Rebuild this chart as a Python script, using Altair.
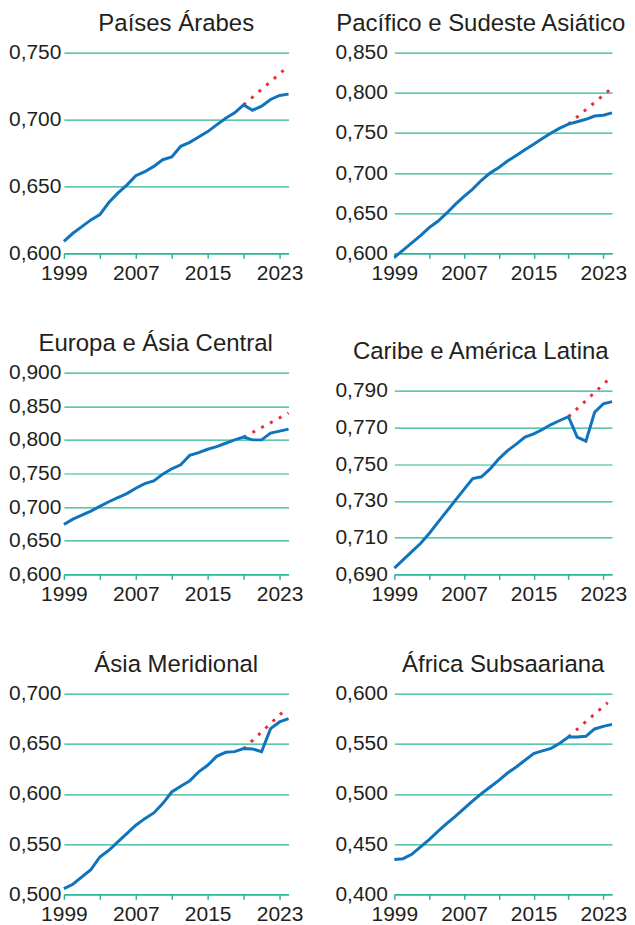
import altair as alt
import pandas as pd

years = list(range(1999, 2025))

arab = [0.609, 0.615, 0.620, 0.625, 0.629, 0.638, 0.645, 0.651, 0.658, 0.661, 0.665, 0.670, 0.672,
        0.680, 0.683, 0.687, 0.691, 0.696, 0.701, 0.705, 0.711, 0.707, 0.710, 0.715, 0.718, 0.719]
pacific = [0.595, 0.604, 0.613, 0.622, 0.632, 0.640, 0.650, 0.661, 0.671, 0.680, 0.691, 0.700, 0.707,
           0.715, 0.722, 0.729, 0.736, 0.743, 0.750, 0.756, 0.761, 0.764, 0.767, 0.771, 0.772, 0.775]
europe = [0.674, 0.682, 0.688, 0.694, 0.701, 0.708, 0.714, 0.720, 0.728, 0.735, 0.739, 0.749, 0.757,
          0.763, 0.777, 0.781, 0.786, 0.790, 0.795, 0.800, 0.804, 0.800, 0.800, 0.810, 0.813, 0.816]
latam = [0.6934, 0.6979, 0.7024, 0.7068, 0.7123, 0.7183, 0.7243, 0.7303, 0.7363, 0.7422, 0.7432, 0.7475, 0.7530,
         0.7575, 0.7610, 0.7648, 0.7666, 0.7690, 0.7717, 0.7739, 0.7760, 0.7648, 0.7626, 0.7784, 0.7830, 0.7842]
south_asia = [0.5056, 0.5100, 0.5173, 0.5246, 0.5372, 0.5439, 0.5522, 0.5605, 0.5688, 0.5754, 0.5811, 0.5904, 0.6020,
              0.6076, 0.6130, 0.6220, 0.6286, 0.6375, 0.6415, 0.6422, 0.6452, 0.6449, 0.6422, 0.6651, 0.6718, 0.6751]
africa = [0.4346, 0.4355, 0.4399, 0.4472, 0.4545, 0.4628, 0.4704, 0.4777, 0.4854, 0.4930, 0.5003, 0.5070, 0.5136,
          0.5209, 0.5269, 0.5336, 0.5402, 0.5429, 0.5455, 0.5505, 0.5568, 0.5568, 0.5575, 0.5648, 0.5674, 0.5694]

# trend projections (dotted): [start year, end year], [start value, end value]
arab_proj_years = [2019, 2024]
arab_proj = [0.711, 0.740]
pacific_proj_years = [2019, 2024]
pacific_proj = [0.761, 0.806]
europe_proj_years = [2019, 2024]
europe_proj = [0.804, 0.840]
latam_proj_years = [2019, 2024]
latam_proj = [0.776, 0.798]
south_asia_proj_years = [2019, 2023.4]
south_asia_proj = [0.645, 0.682]
africa_proj_years = [2019, 2023.5]
africa_proj = [0.557, 0.591]

titles = ["Países Árabes", "Pacífico e Sudeste Asiático", "Europa e Ásia Central",
          "Caribe e América Latina", "Ásia Meridional", "África Subsaariana"]

x_tick_values = [1999, 2003, 2007, 2011, 2015, 2019, 2023]

TEAL = "#2bb595"
BLUE = "#0f74bd"
RED = "#ee2b3b"
TEXT = "#231f20"
FONT = "Liberation Sans"


def panel(title, values, proj_years, proj_vals, ydomain, yticks, width, height, frame, label_pad):
    df = pd.DataFrame({"year": years, "value": values})
    pdf = pd.DataFrame({"year": proj_years, "value": proj_vals})
    x = alt.X("year:Q", title=None,
              scale=alt.Scale(domain=[1999, 2024], nice=False, zero=False),
              axis=alt.Axis(values=x_tick_values, format="d",
                            labelExpr="(datum.value - 1999) % 8 == 0 ? datum.label : ''",
                            grid=False, domainColor=TEAL, domainWidth=1.5,
                            tickColor=TEAL, tickWidth=1.5, tickSize=5,
                            labelFontSize=21, labelFont=FONT, labelColor=TEXT,
                            labelPadding=4, labelFlush=False, labelOverlap=False))
    y = alt.Y("value:Q", title=None,
              scale=alt.Scale(domain=ydomain, nice=False, zero=False),
              axis=alt.Axis(values=yticks,
                            labelExpr="replace(format(datum.value, '.3f'), '.', ',')",
                            domain=False, ticks=False, grid=True, gridColor=TEAL,
                            gridWidth=1.2, labelFontSize=21, labelFont=FONT,
                            labelColor=TEXT, labelPadding=label_pad, labelFlush=False))
    dots = alt.Chart(pdf).mark_line(color=RED, strokeWidth=3, strokeDash=[3, 7]).encode(x=x, y=y)
    line = alt.Chart(df).mark_line(color=BLUE, strokeWidth=3).encode(x=x, y=y)
    return alt.layer(dots, line).properties(
        width=width, height=height,
        title=alt.TitleParams(title, fontSize=24, font=FONT, fontWeight="normal",
                              color=TEXT, frame=frame, anchor="middle", offset=6))


p1 = panel(titles[0], arab, arab_proj_years, arab_proj, [0.600, 0.750],
           [0.60, 0.65, 0.70, 0.75], 225, 201, "group", 3)
p2 = panel(titles[1], pacific, pacific_proj_years, pacific_proj, [0.600, 0.850],
           [0.60, 0.65, 0.70, 0.75, 0.80, 0.85], 218, 201, "bounds", 7)
p3 = panel(titles[2], europe, europe_proj_years, europe_proj, [0.600, 0.900],
           [0.60, 0.65, 0.70, 0.75, 0.80, 0.85, 0.90], 225, 202, "bounds", 3)
p4 = panel(titles[3], latam, latam_proj_years, latam_proj, [0.690, 0.800],
           [0.69, 0.71, 0.73, 0.75, 0.77, 0.79], 218, 202, "bounds", 7)
p5 = panel(titles[4], south_asia, south_asia_proj_years, south_asia_proj, [0.500, 0.700],
           [0.50, 0.55, 0.60, 0.65, 0.70], 225, 201, "group", 3)
p6 = panel(titles[5], africa, africa_proj_years, africa_proj, [0.400, 0.600],
           [0.40, 0.45, 0.50, 0.55, 0.60], 218, 201, "group", 7)

chart = alt.vconcat(
    alt.hconcat(p1, p2, spacing=31),
    alt.hconcat(p3, p4, spacing=31),
    alt.hconcat(p5, p6, spacing=31),
    spacing=48.5,
).properties(
    padding={"top": 3, "left": 0, "right": 0, "bottom": 0},
    background="white",
).configure_view(stroke=None)

chart.save("out.html", embed_options={"renderer": "svg", "actions": False})
